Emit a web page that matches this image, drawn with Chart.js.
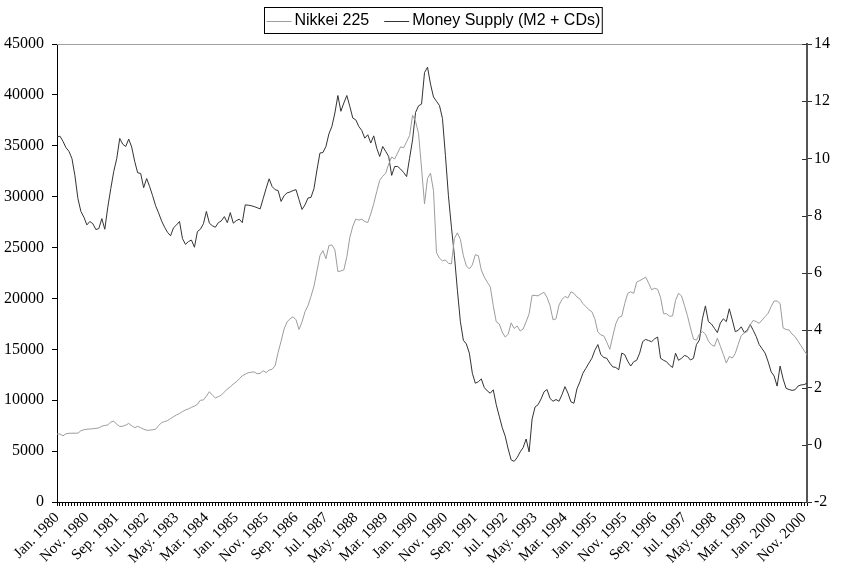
<!DOCTYPE html>
<html>
<head>
<meta charset="utf-8">
<script src="https://cdn.jsdelivr.net/npm/chart.js@4/dist/chart.umd.min.js"></script>
<style>
  html, body { margin: 0; padding: 0; background: #fff; }
  #chart { display: block; }
</style>
</head>
<body>
<canvas id="chart" width="842" height="570"></canvas>
<script>
// monthly categories, Jan. 1980 .. Dec. 2000
const monthNames = ['Jan.', 'Feb.', 'Mar.', 'Apr.', 'May.', 'Jun.', 'Jul.', 'Aug.', 'Sep.', 'Oct.', 'Nov.', 'Dec.'];
const years = [1980, 1981, 1982, 1983, 1984, 1985, 1986, 1987, 1988, 1989, 1990,
               1991, 1992, 1993, 1994, 1995, 1996, 1997, 1998, 1999, 2000];
const labelEvery = 10; // a label every 10 months

// Nikkei 225 (left axis), one row per year
const nikkei = [
  6680, 6680, 6500, 6700, 6750, 6760, 6760, 6760, 7000, 7100, 7150, 7170,
  7200, 7230, 7280, 7450, 7520, 7570, 7850, 7950, 7630, 7420, 7450, 7550,
  7720, 7500, 7300, 7430, 7300, 7150, 7050, 7050, 7100, 7150, 7500, 7800,
  7900, 8000, 8200, 8380, 8550, 8700, 8880, 9040, 9150, 9300, 9420, 9600,
  10000, 10020, 10400, 10840, 10500, 10220, 10350, 10500, 10800, 11100, 11300, 11600,
  11800, 12100, 12400, 12550, 12700, 12750, 12780, 12600, 12650, 12900, 12710, 12970,
  13040, 13400, 14700, 15800, 17000, 17700, 18000, 18200, 17900, 16950, 17700, 18700,
  19300, 20200, 21200, 22700, 24200, 24700, 23900, 25200, 25260, 24770, 22640, 22700,
  22800, 24100, 26000, 27100, 27800, 27700, 27780, 27560, 27460, 28300, 29300, 30500,
  31600, 32000, 32300, 33200, 33900, 33700, 34300, 34900, 34800, 35400, 36000, 38000,
  37400, 36200, 32800, 29300, 31800, 32300, 30600, 24500, 23950, 23700, 23780, 23450,
  23400, 25900, 26450, 25800, 24200, 23200, 22900, 23300, 24300, 24200, 22800, 22100,
  21600, 21150, 19300, 17700, 17500, 16700, 16200, 16500, 17600, 17050, 17300, 16800,
  17000, 17700, 18500, 20300, 20300, 20250, 20450, 20600, 20100, 19300, 17900, 18000,
  19350, 19900, 20200, 20050, 20650, 20500, 20150, 19950, 19500, 19200, 18900, 18700,
  18000, 16700, 16420, 16320, 15700, 15000, 16300, 17500, 18150, 18250, 19500, 20500,
  20650, 20500, 21600, 21750, 21900, 22100, 21500, 20850, 21000, 20900, 20100, 18500,
  18500, 18250, 18280, 19800, 20500, 20250, 19300, 18300, 17100, 16000, 15900, 16500,
  16750, 16500, 15800, 15450, 15300, 16100, 15300, 14500, 13650, 14300, 14150, 14600,
  15500, 16350, 16600, 16750, 17400, 17850, 17720, 17560, 17890, 18220, 18550, 19200,
  19750, 19750, 19500, 17100, 16950, 16900, 16500, 16250, 15800, 15350, 14900, 14450
];

// Money supply (M2 + CDs), % growth (right axis)
const moneySupply = [
  10.75, 10.78, 10.6, 10.38, 10.25, 10.0, 9.4, 8.6, 8.15, 7.95, 7.68, 7.8,
  7.72, 7.52, 7.55, 7.9, 7.53, 8.3, 8.95, 9.55, 10.0, 10.7, 10.5, 10.42,
  10.68, 10.4, 9.9, 9.5, 9.48, 8.98, 9.3, 9.02, 8.7, 8.35, 8.1, 7.82,
  7.6, 7.42, 7.3, 7.58, 7.68, 7.8, 7.2, 7.0, 7.1, 7.15, 6.9, 7.45,
  7.53, 7.72, 8.15, 7.74, 7.65, 7.6, 7.76, 7.82, 7.97, 7.76, 8.11, 7.74,
  7.83, 7.88, 7.76, 8.38, 8.37, 8.35, 8.32, 8.28, 8.24, 8.6, 8.96, 9.29,
  9.02, 8.91, 8.88, 8.5, 8.7, 8.8, 8.83, 8.88, 8.91, 8.56, 8.22, 8.38,
  8.62, 8.64, 8.95, 9.6, 10.19, 10.21, 10.42, 10.86, 11.12, 11.59, 12.2, 11.65,
  11.94, 12.2, 11.82, 11.41, 11.35, 11.12, 10.98, 10.71, 10.83, 10.54, 10.79, 10.36,
  10.07, 10.42, 10.25, 10.07, 9.41, 9.72, 9.72, 9.63, 9.51, 9.37, 10.01, 10.65,
  11.61, 11.84, 11.9, 13.0, 13.19, 12.6, 12.15, 12.0, 11.85, 11.4, 10.1, 8.7,
  7.6, 6.6, 5.4, 4.3, 3.65, 3.52, 3.2, 2.5, 2.15, 2.2, 2.3, 2.0,
  1.88, 1.8, 1.92, 1.4, 1.0, 0.6, 0.3, -0.15, -0.53, -0.58, -0.45, -0.25,
  -0.1, 0.2, -0.25, 0.9, 1.32, 1.4, 1.6, 1.85, 1.93, 1.62, 1.52, 1.58,
  1.52, 1.75, 2.03, 1.8, 1.5, 1.45, 1.95, 2.2, 2.5, 2.67, 2.85, 3.02,
  3.3, 3.5, 3.15, 3.05, 3.02, 2.85, 2.72, 2.7, 2.62, 3.2, 3.15, 2.92,
  2.75, 2.9, 2.95, 3.2, 3.6, 3.68, 3.64, 3.6, 3.7, 3.76, 3.02, 2.95,
  2.9, 2.78, 2.7, 3.2, 2.95, 3.02, 3.12, 3.08, 2.96, 3.02, 3.5, 3.66,
  4.4, 4.85, 4.3, 4.22, 4.07, 3.92, 4.25, 4.4, 4.3, 4.75, 4.36, 3.95,
  4.0, 4.12, 3.92, 4.0, 4.2, 4.0, 3.78, 3.5, 3.35, 3.2, 2.9, 2.55,
  2.4, 2.05, 2.75, 2.3, 1.97, 1.93, 1.9, 1.92, 2.05, 2.09, 2.1, 2.15
];

const leftTicks = { min: 0, max: 45000, step: 5000 };
const rightTicks = { min: -2, max: 14, step: 2 };

const labels = [];
years.forEach(y => monthNames.forEach(m => labels.push(m + ' ' + y)));

const serif = 'Liberation Serif';

// legend in a box, drawn like the spreadsheet one
const boxedLegend = {
  id: 'boxedLegend',
  afterDraw(chart) {
    const ctx = chart.ctx;
    ctx.save();
    ctx.font = '16px "Liberation Sans"';
    ctx.textBaseline = 'middle';
    const sw = 25, gap = 3, between = 15, pad = 2;
    const ds = chart.data.datasets;
    let total = pad * 2;
    ds.forEach((d, i) => { total += sw + gap + ctx.measureText(d.label).width + (i ? between : 0); });
    const left = Math.round(433 - total / 2) + 0.5;
    const top = 7.5, h = 26, cy = 21;
    ctx.fillStyle = '#fff';
    ctx.fillRect(left, top, total, h);
    ctx.strokeStyle = '#000';
    ctx.lineWidth = 1;
    ctx.strokeRect(left, top, total, h);
    let x = left + pad;
    ds.forEach((d, i) => {
      if (i) x += between;
      ctx.strokeStyle = d.borderColor;
      ctx.beginPath();
      ctx.moveTo(x, cy + 0.5);
      ctx.lineTo(x + sw, cy + 0.5);
      ctx.stroke();
      x += sw + gap;
      ctx.fillStyle = '#000';
      ctx.fillText(d.label, x, cy);
      x += ctx.measureText(d.label).width;
    });
    ctx.restore();
  }
};

// grey top edge of the plot area and the inner half of the right ticks
const frame = {
  id: 'frame',
  afterDraw(chart) {
    const { ctx, chartArea } = chart;
    ctx.save();
    ctx.strokeStyle = '#a0a0a0';
    ctx.lineWidth = 1;
    ctx.beginPath();
    ctx.moveTo(chartArea.left, Math.round(chartArea.top) + 0.5);
    ctx.lineTo(chartArea.right, Math.round(chartArea.top) + 0.5);
    ctx.stroke();
    const y1 = chart.scales.y1;
    ctx.strokeStyle = '#333';
    y1.ticks.forEach(t => {
      const py = Math.round(y1.getPixelForValue(t.value)) + 0.5;
      ctx.beginPath();
      ctx.moveTo(chartArea.right - 5, py);
      ctx.lineTo(chartArea.right, py);
      ctx.stroke();
    });
    ctx.restore();
  }
};

const ctx = document.getElementById('chart').getContext('2d');
const myChart = new Chart(ctx, {
  type: 'line',
  data: {
    labels: labels,
    datasets: [{
      label: 'Nikkei 225',
      data: nikkei,
      yAxisID: 'y',
      borderColor: '#9c9c9c',
      borderWidth: 1,
      pointRadius: 0,
      tension: 0
    }, {
      label: 'Money Supply (M2 + CDs)',
      data: moneySupply,
      yAxisID: 'y1',
      borderColor: '#333333',
      borderWidth: 1,
      pointRadius: 0,
      tension: 0
    }]
  },
  options: {
    responsive: false,
    animation: false,
    layout: { padding: { top: 44, left: 0, right: 0, bottom: 0 } },
    plugins: {
      legend: { display: false },
      tooltip: { enabled: false }
    },
    scales: {
      x: {
        offset: false,
        afterFit: s => { s.height = 68; },
        grid: { drawOnChartArea: false, tickLength: 4, color: '#000' },
        border: { color: '#000' },
        ticks: {
          autoSkip: false,
          minRotation: 45,
          maxRotation: 45,
          padding: 3,
          color: '#000',
          font: { family: serif, size: 15 },
          callback: function (v, i) { return i % labelEvery === 0 ? this.getLabelForValue(v) : ''; }
        }
      },
      y: {
        position: 'left',
        min: leftTicks.min,
        max: leftTicks.max,
        afterFit: s => { s.width = 57; },
        grid: { drawOnChartArea: false, tickLength: 5, color: '#000' },
        border: { color: '#000' },
        ticks: {
          stepSize: leftTicks.step,
          padding: 8,
          color: '#000',
          font: { family: serif, size: 16 },
          callback: v => String(v)
        }
      },
      y1: {
        position: 'right',
        min: rightTicks.min,
        max: rightTicks.max,
        afterFit: s => { s.width = 35; },
        grid: { drawOnChartArea: false, tickLength: 5, color: '#333' },
        border: { color: '#555', width: 2 },
        ticks: {
          stepSize: rightTicks.step,
          padding: 2,
          color: '#000',
          font: { family: serif, size: 16 },
          callback: v => String(v)
        }
      }
    }
  },
  plugins: [frame, boxedLegend]
});
</script>
</body>
</html>
